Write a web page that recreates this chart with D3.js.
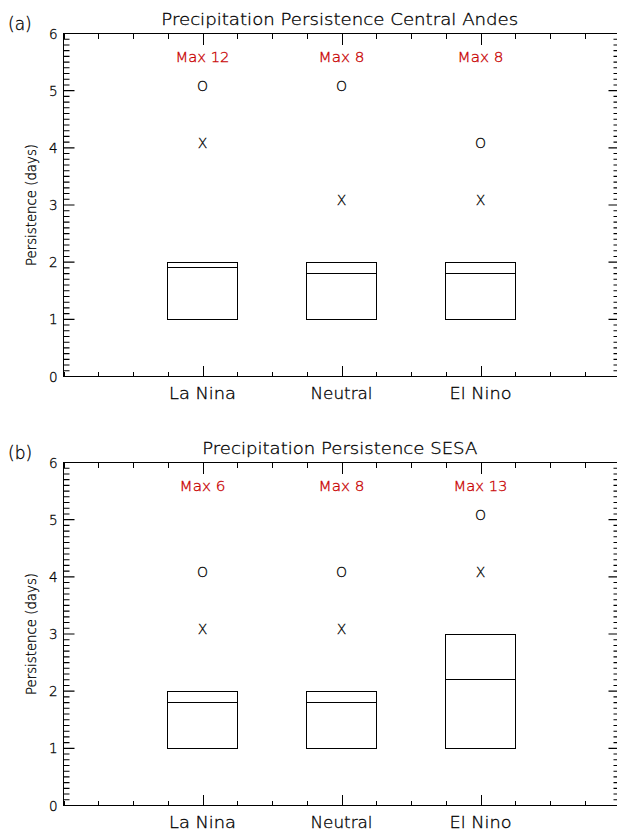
<!DOCTYPE html>
<html>
<head>
<meta charset="utf-8">
<script src="https://cdn.jsdelivr.net/npm/d3@7"></script>
<style>
  html, body { margin: 0; padding: 0; background: #fff; }
  svg { display: block; }
  text { font-family: "DejaVu Sans", "Liberation Sans", sans-serif; fill: #000; font-weight: 300; stroke: #000; stroke-width: 0.3px; }
  text.red { fill: #c80000; stroke: #c80000; }
</style>
</head>
<body>
<svg id="chart" width="617" height="830"></svg>
<script>
// ---- data ----
const categories = ["La Nina", "Neutral", "El Nino"];
const categoryPos = [1, 2, 3];
const panelTitles = ["Precipitation Persistence Central Andes", "Precipitation Persistence SESA"];
const panelLetters = ["(a)", "(b)"];
const yTicks = [0, 1, 2, 3, 4, 5, 6];

// panel (a) Central Andes
const boxLowA = [1, 1, 1];
const boxHighA = [2, 2, 2];
const medianA = [1.9, 1.8, 1.8];
const markOA = [5, 5, 4];
const markXA = [4, 3, 3];
const maxA = [12, 8, 8];

// panel (b) SESA
const boxLowB = [1, 1, 1];
const boxHighB = [2, 2, 3];
const medianB = [1.8, 1.8, 2.2];
const markOB = [4, 4, 5];
const markXB = [3, 3, 4];
const maxB = [6, 8, 13];

const panels = [
  { low: boxLowA, high: boxHighA, med: medianA, o: markOA, x: markXA, max: maxA },
  { low: boxLowB, high: boxHighB, med: medianB, o: markOB, x: markXB, max: maxB }
];

// ---- layout ----
const svg = d3.select("#chart");
const left = 63.5, right = 619.5;
const panelTops = [33.5, 462.5];
const panelHeight = 343;
const titleLengths = [357, 275];
const snap = v => Math.round(v - 0.5) + 0.5;

const x = d3.scaleLinear().domain([0, 4]).range([left, right]);
const xMinor = d3.range(0, 17).map(k => k * 0.25);
const yMinor = d3.range(0, 61).map(k => k / 10);

function styleAxis(sel) {
  sel.select(".domain").remove();
  sel.selectAll(".tick line").attr("stroke", "#000").attr("stroke-width", 1).attr("shape-rendering", "crispEdges");
  sel.selectAll(".tick text").remove();
}

panels.forEach((p, i) => {
  const top = panelTops[i], bottom = top + panelHeight;
  const y = d3.scaleLinear().domain([0, 6]).range([bottom, top]);
  const g = svg.append("g");

  // frame
  g.append("rect").attr("x", left).attr("y", top)
    .attr("width", right - left).attr("height", bottom - top)
    .attr("fill", "none").attr("stroke", "#000").attr("stroke-width", 1)
    .attr("shape-rendering", "crispEdges");

  // y ticks (left and right, pointing inward)
  let d = "";
  yMinor.forEach((v, k) => {
    const len = (k % 10 === 0) ? 11 : 6;
    const yy = y(v);
    d += `M${left},${yy}H${left + len}M${right},${yy}H${right - len}`;
  });
  g.append("path").attr("d", d).attr("fill", "none")
    .attr("stroke", "#000").attr("stroke-width", 1.1);

  // x ticks bottom and top (pointing inward)
  g.append("g").attr("transform", `translate(0,${bottom})`)
    .call(d3.axisBottom(x).tickValues(xMinor).tickSize(-5).tickFormat(""))
    .call(styleAxis);
  g.append("g").attr("transform", `translate(0,${bottom})`)
    .call(d3.axisBottom(x).tickValues(categoryPos).tickSize(-11).tickFormat(""))
    .call(styleAxis);
  g.append("g").attr("transform", `translate(0,${top})`)
    .call(d3.axisTop(x).tickValues(xMinor).tickSize(-5).tickFormat(""))
    .call(styleAxis);
  g.append("g").attr("transform", `translate(0,${top})`)
    .call(d3.axisTop(x).tickValues(categoryPos).tickSize(-11).tickFormat(""))
    .call(styleAxis);

  // y tick labels
  yTicks.forEach(v => {
    g.append("text").attr("x", left - 6).attr("y", y(v) + 5)
      .attr("text-anchor", "end").attr("font-size", 13.5).text(v);
  });

  // x category labels
  categories.forEach((c, j) => {
    g.append("text").attr("x", x(categoryPos[j])).attr("y", bottom + 22)
      .attr("text-anchor", "middle").attr("font-size", 16)
      .attr("textLength", j === 0 ? 67 : 62).attr("lengthAdjust", "spacingAndGlyphs")
      .text(c);
  });

  // title
  g.append("text").attr("x", (left + 616) / 2).attr("y", top - 9)
    .attr("text-anchor", "middle").attr("font-size", 16)
    .attr("textLength", titleLengths[i]).attr("lengthAdjust", "spacingAndGlyphs")
    .text(panelTitles[i]);
  // panel letter
  g.append("text").attr("x", 8).attr("y", top - 4).attr("font-size", 17)
    .text(panelLetters[i]);

  // y axis label
  g.append("text")
    .attr("transform", `translate(36,${(top + bottom) / 2}) rotate(-90)`)
    .attr("text-anchor", "middle").attr("font-size", 14)
    .attr("textLength", 122).attr("lengthAdjust", "spacingAndGlyphs")
    .text("Persistence (days)");

  // boxes
  const hw = 0.25;
  categoryPos.forEach((cx, j) => {
    const x0 = snap(x(cx - hw)), x1 = snap(x(cx + hw));
    const yh = snap(y(p.high[j])), yl = snap(y(p.low[j])), ym = snap(y(p.med[j]));
    g.append("rect").attr("x", x0).attr("y", yh)
      .attr("width", x1 - x0).attr("height", yl - yh)
      .attr("fill", "none").attr("stroke", "#000").attr("stroke-width", 1)
      .attr("shape-rendering", "crispEdges");
    g.append("line").attr("x1", x0).attr("x2", x1)
      .attr("y1", ym).attr("y2", ym)
      .attr("stroke", "#000").attr("stroke-width", 1)
      .attr("shape-rendering", "crispEdges");
    // markers
    g.append("text").attr("x", x(cx)).attr("y", y(p.o[j])).attr("text-anchor", "middle")
      .attr("font-size", 14).text("O");
    g.append("text").attr("x", x(cx)).attr("y", y(p.x[j])).attr("text-anchor", "middle")
      .attr("font-size", 14).text("X");
    // max labels
    const lbl = "Max " + p.max[j];
    g.append("text").attr("class", "red").attr("x", x(cx)).attr("y", y(5.5)).attr("text-anchor", "middle")
      .attr("font-size", 14)
      .attr("textLength", lbl.length === 6 ? 54 : 46).attr("lengthAdjust", "spacingAndGlyphs")
      .text(lbl);
  });
});
</script>
</body>
</html>
